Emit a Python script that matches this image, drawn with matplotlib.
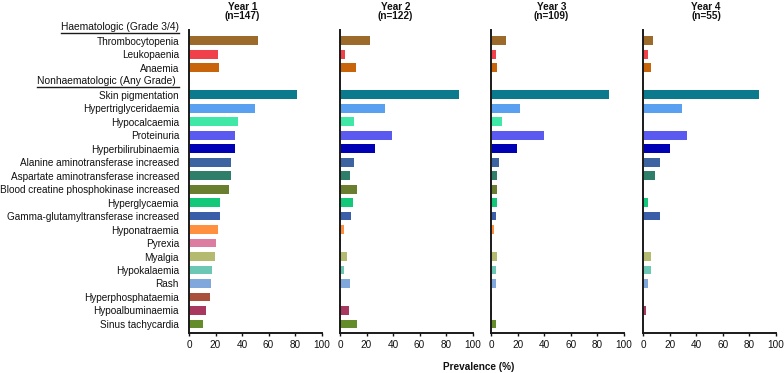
import matplotlib
matplotlib.use("Agg")
import matplotlib.pyplot as plt
from matplotlib.lines import Line2D
import numpy as np

plt.rcParams['font.family'] = ['Liberation Sans', 'DejaVu Sans']

header_haem = "Haematologic (Grade 3/4)"
header_nonhaem = "Nonhaematologic (Any Grade) "

haem_categories = ["Thrombocytopenia", "Leukopaenia", "Anaemia"]
nonhaem_categories = [
    "Skin pigmentation", "Hypertriglyceridaemia", "Hypocalcaemia", "Proteinuria",
    "Hyperbilirubinaemia", "Alanine aminotransferase increased",
    "Aspartate aminotransferase increased", "Blood creatine phosphokinase increased",
    "Hyperglycaemia", "Gamma-glutamyltransferase increased", "Hyponatraemia",
    "Pyrexia", "Myalgia", "Hypokalaemia", "Rash", "Hyperphosphataemia",
    "Hypoalbuminaemia", "Sinus tachycardia",
]

haem_colors = ["#9C6A2A", "#F0404A", "#C8640A"]
nonhaem_colors = [
    "#0A7A8C", "#5AA0F0", "#40E8A8", "#5A5AF0", "#0000B4", "#3C64A0",
    "#2E7E6A", "#6A7E30", "#14C87A", "#3A5EA8", "#FF9040", "#DC7CA0",
    "#B4BA70", "#6CC8B4", "#80A8DC", "#A8503C", "#A83860", "#648C2A",
]

years = ["Year 1", "Year 2", "Year 3", "Year 4"]
n_patients = [147, 122, 109, 55]

haem_year1 = [51.7, 21.8, 22.4]
haem_year2 = [22.9, 4.1, 12.3]
haem_year3 = [11.0, 3.7, 4.6]
haem_year4 = [7.3, 3.6, 5.5]

nonhaem_year1 = [81.6, 49.7, 36.7, 34.7, 34.7, 32.0, 31.3, 29.9, 23.1, 23.1,
                 21.8, 20.4, 19.7, 17.7, 16.3, 15.6, 12.9, 10.9]
nonhaem_year2 = [89.3, 33.6, 10.7, 39.3, 26.2, 10.7, 7.4, 13.1, 9.8, 8.2,
                 3.3, 0.8, 4.9, 3.3, 7.4, 0.8, 6.6, 13.1]
nonhaem_year3 = [89.0, 22.0, 8.3, 39.4, 19.3, 5.5, 4.6, 4.6, 4.6, 3.7,
                 1.8, 0.0, 4.6, 3.7, 3.7, 0.9, 0.9, 3.7]
nonhaem_year4 = [87.3, 29.1, 0.0, 32.7, 20.0, 12.7, 9.1, 0.0, 3.6, 12.7,
                 0.0, 0.0, 5.5, 5.5, 3.6, 0.0, 1.8, 0.0]

haem_values = [haem_year1, haem_year2, haem_year3, haem_year4]
nonhaem_values = [nonhaem_year1, nonhaem_year2, nonhaem_year3, nonhaem_year4]

# row layout: header rows at 0 and 4
haem_rows = np.arange(1, 1 + len(haem_categories))
nonhaem_rows = np.arange(5, 5 + len(nonhaem_categories))
all_rows = np.concatenate([haem_rows, nonhaem_rows])
all_labels = haem_categories + nonhaem_categories
all_colors = haem_colors + nonhaem_colors

W, H = 784, 373
fig = plt.figure(figsize=(W / 100, H / 100), dpi=100)

lefts_px = [189, 340, 491.3, 643.3]
width_px = 132.7
top_px, bottom_px = 30, 333
title_x_px = [242.5, 395.5, 551.5, 706]

axes = []
fs = 7.2
txt_color = '#111111'
for i, lx in enumerate(lefts_px):
    ax = fig.add_axes([lx / W, 1 - bottom_px / H, width_px / W, (bottom_px - top_px) / H])
    vals = list(haem_values[i]) + list(nonhaem_values[i])
    ax.barh(all_rows, vals, height=0.66, color=all_colors, edgecolor='none')
    ax.set_xlim(0, 100)
    ax.set_ylim(22.67, 0.21)
    ax.set_xticks([0, 20, 40, 60, 80, 100])
    ax.tick_params(axis='x', length=2.5, width=1.0, pad=2.5, labelsize=fs,
                   colors=txt_color)
    for s in ['top', 'right']:
        ax.spines[s].set_visible(False)
    for s in ['left', 'bottom']:
        ax.spines[s].set_linewidth(1.4)
        ax.spines[s].set_color('#1a1a1a')
    if i == 0:
        ax.set_yticks(all_rows)
        ax.set_yticklabels(all_labels, fontsize=fs, color=txt_color)
        ax.tick_params(axis='y', length=0, pad=7.2)
    else:
        ax.set_yticks([])
    fig.text(title_x_px[i] / W, 1 - 6.5 / H, years[i], ha='center', va='center',
             fontsize=fs, fontweight='bold', color=txt_color)
    fig.text(title_x_px[i] / W, 1 - 16 / H, f"(n={n_patients[i]})", ha='center',
             va='center', fontsize=fs, fontweight='bold', color=txt_color)
    axes.append(ax)

ax0 = axes[0]
header_texts = []
x_hdr = -10.0 / (width_px / 100.0)
for row, txt in [(0, header_haem), (4, header_nonhaem)]:
    t = ax0.text(x_hdr, row, txt, transform=ax0.transData, ha='right',
                 va='center', fontsize=7.4, color=txt_color, clip_on=False)
    header_texts.append(t)

fig.text(479 / W, 1 - 367 / H, "Prevalence (%)", ha='center', va='center',
         fontsize=fs, fontweight='bold', color=txt_color)

fig.canvas.draw()
renderer = fig.canvas.get_renderer()
inv = fig.transFigure.inverted()
for t in header_texts:
    bb = t.get_window_extent(renderer)
    (x0, y0), (x1, y1) = inv.transform([(bb.x0, bb.y0 - 0.5), (bb.x1, bb.y0 - 0.5)])
    fig.add_artist(Line2D([x0, x1], [y0, y1], transform=fig.transFigure,
                          color='#1a1a1a', linewidth=1.0))

fig.savefig("out.png", dpi=100)
